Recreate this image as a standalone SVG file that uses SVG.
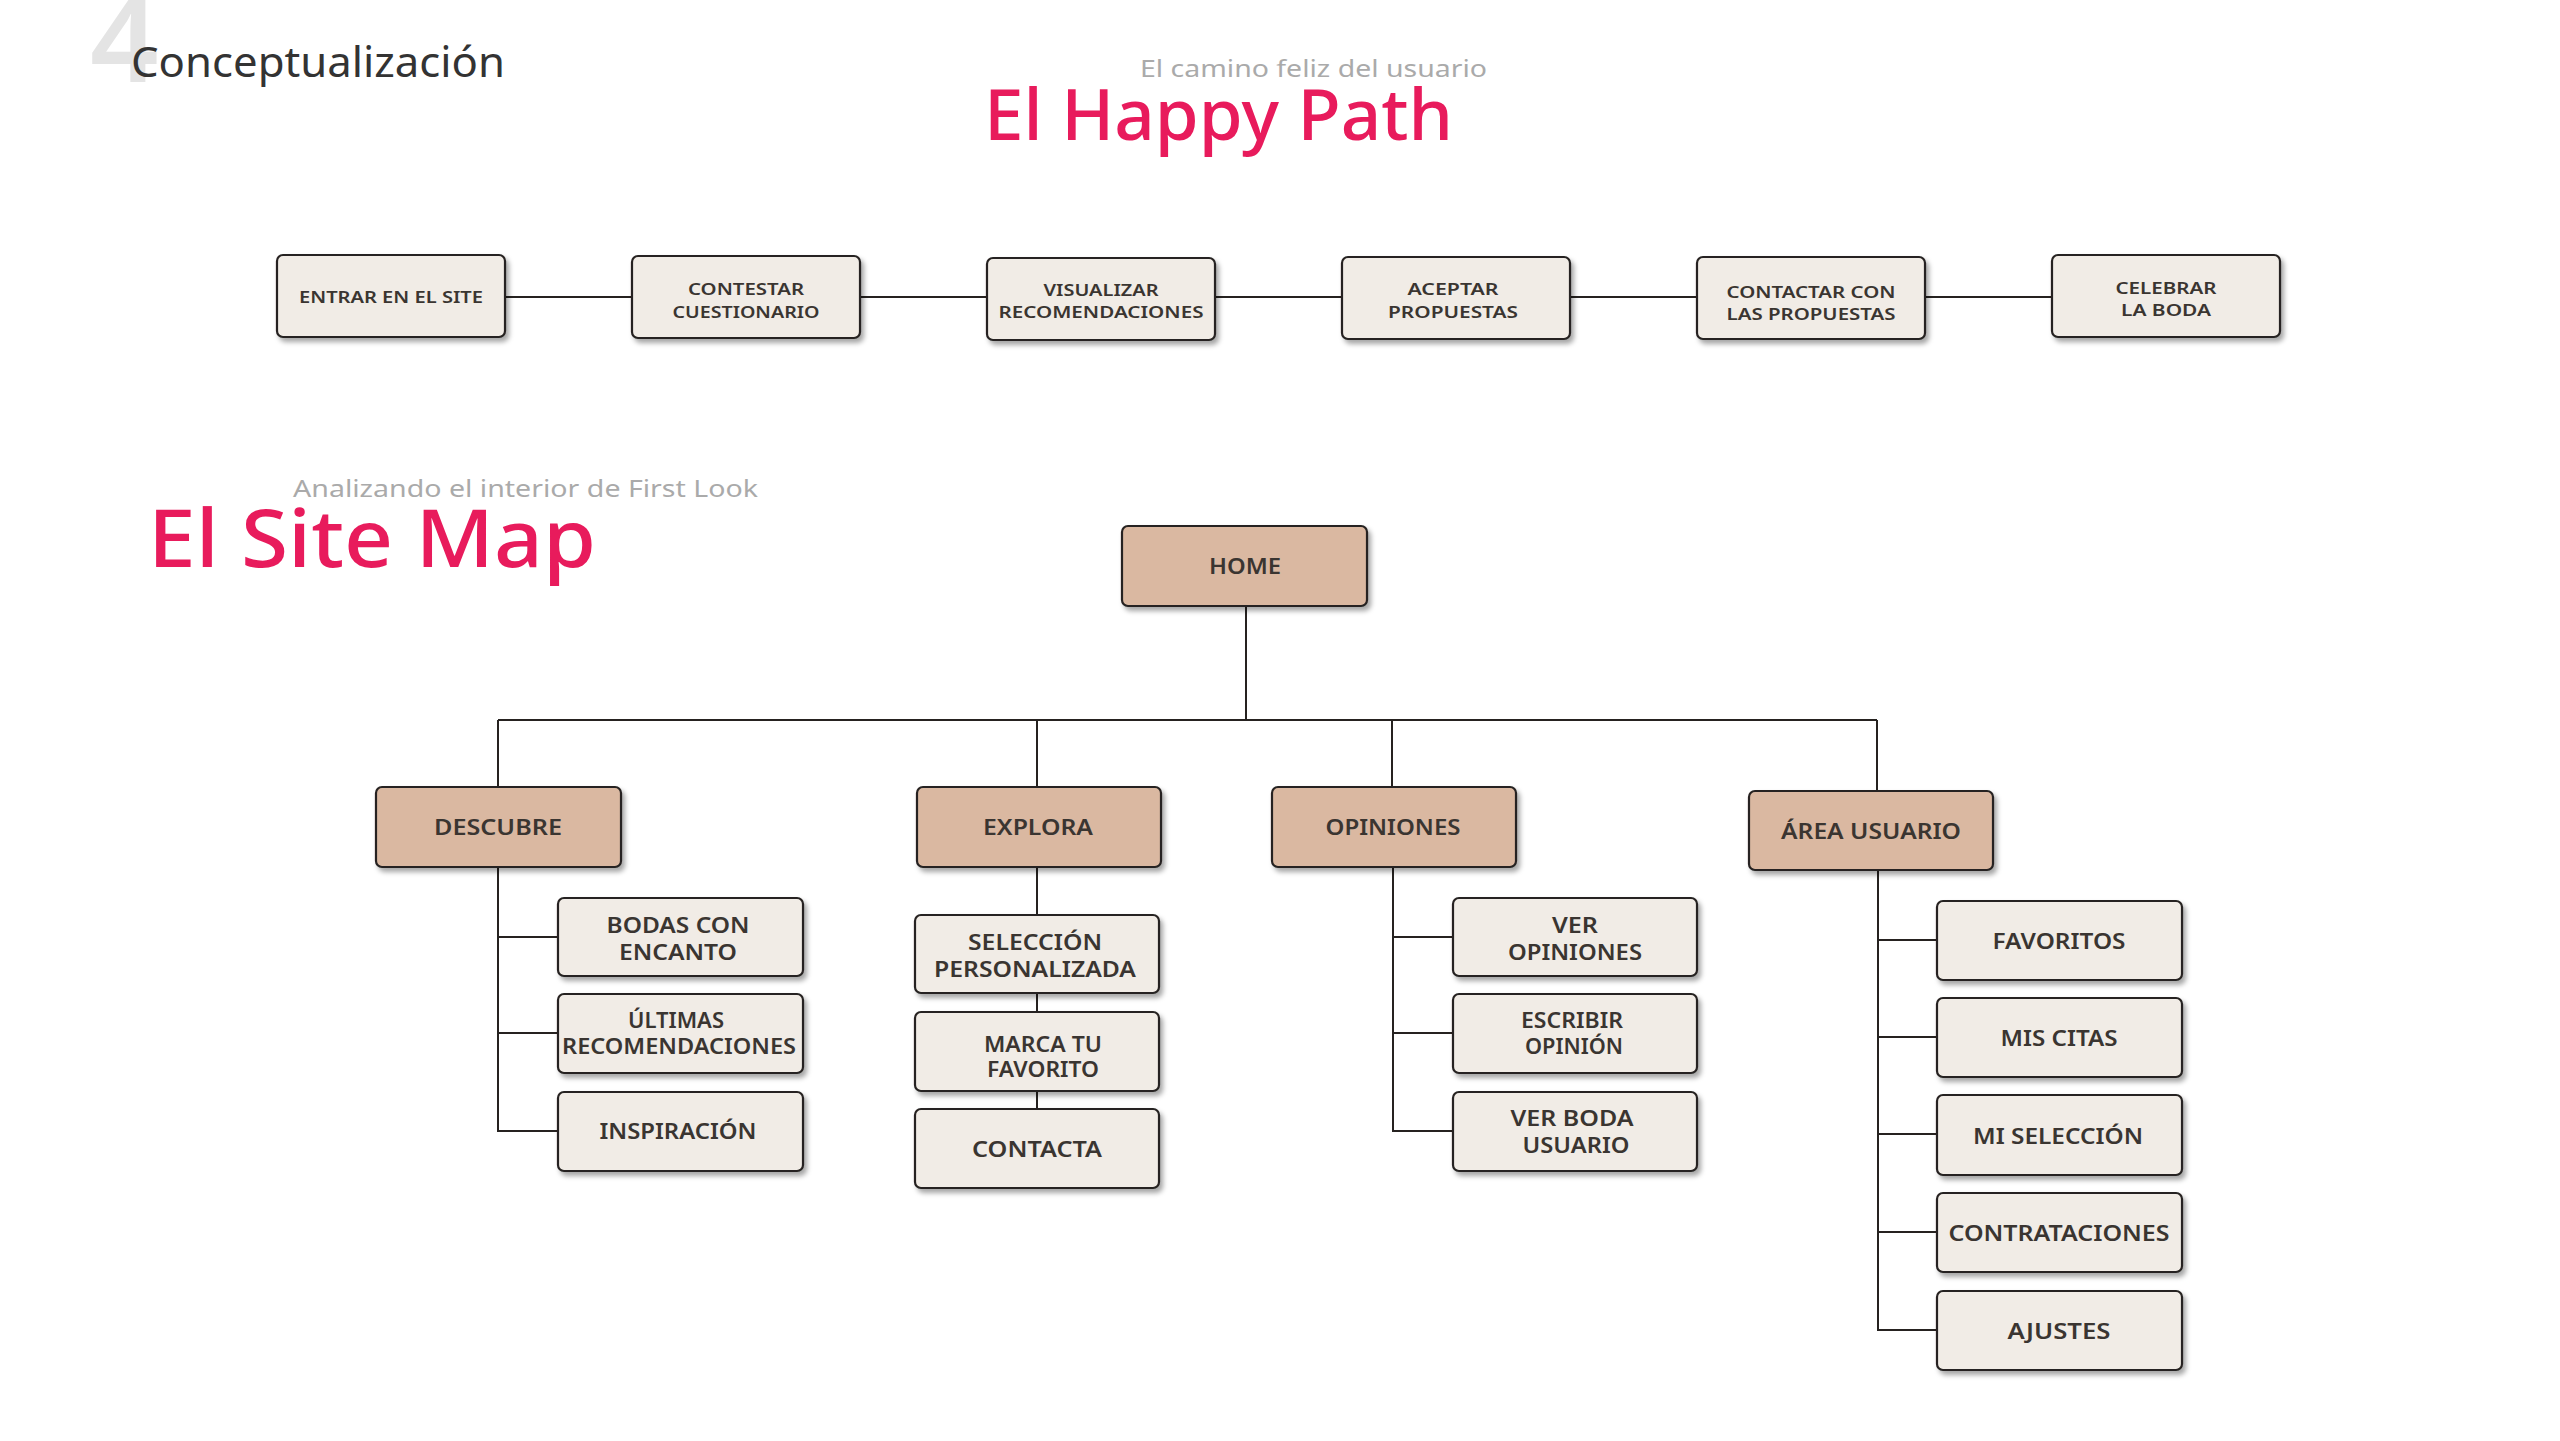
<svg xmlns="http://www.w3.org/2000/svg" width="2560" height="1441" viewBox="0 0 2560 1441">
<style>
text{font-family:"Noto Sans","Open Sans","Liberation Sans",sans-serif}
.box rect{stroke:#262220;stroke-width:2.2}
.light rect{fill:#f1ece6}
.main rect{fill:#dab8a1}
.lbl{fill:#3a3531;font-size:22px;font-weight:600;text-anchor:middle}
.sm{fill:#3a3531;font-size:16px;font-weight:600;text-anchor:middle}
.conn path{fill:none;stroke:#262220;stroke-width:2}
</style>
<defs>
<filter id="sh" x="-10%" y="-10%" width="125%" height="135%">
<feDropShadow dx="3" dy="4" stdDeviation="2.5" flood-color="#000" flood-opacity="0.35"/>
</filter>
</defs>
<rect width="2560" height="1441" fill="#ffffff"/>

<g id="header">
<text x="90" y="82" font-size="120" font-weight="600" fill="#e4e4e4">4</text>
<text x="131" y="77" font-size="42" fill="#333333" textLength="374" lengthAdjust="spacingAndGlyphs">Conceptualización</text>
<text x="1140" y="77" font-size="24" fill="#aaaaaa" textLength="347" lengthAdjust="spacingAndGlyphs">El camino feliz del usuario</text>
<text x="984" y="140" font-size="70" font-weight="500" fill="#e81b5c" textLength="469" lengthAdjust="spacingAndGlyphs">El Happy Path</text>
<text x="293" y="497" font-size="24" fill="#aaaaaa" textLength="465" lengthAdjust="spacingAndGlyphs">Analizando el interior de First Look</text>
<text x="148" y="567" font-size="80" font-weight="500" fill="#e81b5c" textLength="448" lengthAdjust="spacingAndGlyphs">El Site Map</text>
</g>

<g id="connectors" class="conn">
<path d="M506 297H632"/>
<path d="M860 297H987"/>
<path d="M1215 297H1342"/>
<path d="M1570 297H1697"/>
<path d="M1925 297H2052"/>
<path d="M1246 606V720"/>
<path d="M498 720H1877"/>
<path d="M498 720V787"/>
<path d="M1037 720V787"/>
<path d="M1392 720V787"/>
<path d="M1877 720V791"/>
<path d="M498 867V1131H558M498 937H558M498 1033H558"/>
<path d="M1037 867V915M1037 993V1012M1037 1091V1109"/>
<path d="M1393 867V1131H1453M1393 937H1453M1393 1033H1453"/>
<path d="M1878 870V1330H1937M1878 940H1937M1878 1037H1937M1878 1134H1937M1878 1232H1937"/>
</g>

<g id="hp1" class="box light"><rect x="277" y="255" width="228" height="82" rx="6" filter="url(#sh)"/><text class="sm" x="391" y="303" textLength="184" lengthAdjust="spacingAndGlyphs">ENTRAR EN EL SITE</text></g>
<g id="hp2" class="box light"><rect x="632" y="256" width="228" height="82" rx="6" filter="url(#sh)"/><text class="sm" x="746" y="295" textLength="116" lengthAdjust="spacingAndGlyphs">CONTESTAR</text><text class="sm" x="746" y="318" textLength="147" lengthAdjust="spacingAndGlyphs">CUESTIONARIO</text></g>
<g id="hp3" class="box light"><rect x="987" y="258" width="228" height="82" rx="6" filter="url(#sh)"/><text class="sm" x="1101" y="296" textLength="115" lengthAdjust="spacingAndGlyphs">VISUALIZAR</text><text class="sm" x="1101" y="318" textLength="205" lengthAdjust="spacingAndGlyphs">RECOMENDACIONES</text></g>
<g id="hp4" class="box light"><rect x="1342" y="257" width="228" height="82" rx="6" filter="url(#sh)"/><text class="sm" x="1453" y="295" textLength="91" lengthAdjust="spacingAndGlyphs">ACEPTAR</text><text class="sm" x="1453" y="318" textLength="130" lengthAdjust="spacingAndGlyphs">PROPUESTAS</text></g>
<g id="hp5" class="box light"><rect x="1697" y="257" width="228" height="82" rx="6" filter="url(#sh)"/><text class="sm" x="1811" y="298" textLength="169" lengthAdjust="spacingAndGlyphs">CONTACTAR CON</text><text class="sm" x="1811" y="320" textLength="169" lengthAdjust="spacingAndGlyphs">LAS PROPUESTAS</text></g>
<g id="hp6" class="box light"><rect x="2052" y="255" width="228" height="82" rx="6" filter="url(#sh)"/><text class="sm" x="2166" y="294" textLength="101" lengthAdjust="spacingAndGlyphs">CELEBRAR</text><text class="sm" x="2166" y="316" textLength="90" lengthAdjust="spacingAndGlyphs">LA BODA</text></g>

<g id="home" class="box main"><rect x="1122" y="526" width="245" height="80" rx="6" filter="url(#sh)"/><text class="lbl" x="1245" y="574" font-size="24" textLength="72" lengthAdjust="spacingAndGlyphs">HOME</text></g>

<g id="descubre" class="box main"><rect x="376" y="787" width="245" height="80" rx="6" filter="url(#sh)"/><text class="lbl" x="498" y="835" textLength="128" lengthAdjust="spacingAndGlyphs">DESCUBRE</text></g>
<g id="explora" class="box main"><rect x="917" y="787" width="244" height="80" rx="6" filter="url(#sh)"/><text class="lbl" x="1038" y="835" textLength="110" lengthAdjust="spacingAndGlyphs">EXPLORA</text></g>
<g id="opiniones" class="box main"><rect x="1272" y="787" width="244" height="80" rx="6" filter="url(#sh)"/><text class="lbl" x="1393" y="835" textLength="135" lengthAdjust="spacingAndGlyphs">OPINIONES</text></g>
<g id="area" class="box main"><rect x="1749" y="791" width="244" height="79" rx="6" filter="url(#sh)"/><text class="lbl" x="1871" y="839" textLength="180" lengthAdjust="spacingAndGlyphs">ÁREA USUARIO</text></g>

<g id="bodas" class="box light"><rect x="558" y="898" width="245" height="78" rx="6" filter="url(#sh)"/><text class="lbl" x="678" y="933" textLength="143" lengthAdjust="spacingAndGlyphs">BODAS CON</text><text class="lbl" x="678" y="960" textLength="118" lengthAdjust="spacingAndGlyphs">ENCANTO</text></g>
<g id="ultimas" class="box light"><rect x="558" y="994" width="245" height="79" rx="6" filter="url(#sh)"/><text class="lbl" x="676" y="1028" textLength="96" lengthAdjust="spacingAndGlyphs">ÚLTIMAS</text><text class="lbl" x="679" y="1054" textLength="234" lengthAdjust="spacingAndGlyphs">RECOMENDACIONES</text></g>
<g id="inspiracion" class="box light"><rect x="558" y="1092" width="245" height="79" rx="6" filter="url(#sh)"/><text class="lbl" x="678" y="1139" textLength="157" lengthAdjust="spacingAndGlyphs">INSPIRACIÓN</text></g>

<g id="seleccion" class="box light"><rect x="915" y="915" width="244" height="78" rx="6" filter="url(#sh)"/><text class="lbl" x="1035" y="950" textLength="134" lengthAdjust="spacingAndGlyphs">SELECCIÓN</text><text class="lbl" x="1035" y="977" textLength="202" lengthAdjust="spacingAndGlyphs">PERSONALIZADA</text></g>
<g id="marca" class="box light"><rect x="915" y="1012" width="244" height="79" rx="6" filter="url(#sh)"/><text class="lbl" x="1043" y="1052" textLength="118" lengthAdjust="spacingAndGlyphs">MARCA TU</text><text class="lbl" x="1043" y="1077" textLength="112" lengthAdjust="spacingAndGlyphs">FAVORITO</text></g>
<g id="contacta" class="box light"><rect x="915" y="1109" width="244" height="79" rx="6" filter="url(#sh)"/><text class="lbl" x="1037" y="1157" textLength="130" lengthAdjust="spacingAndGlyphs">CONTACTA</text></g>

<g id="ver-opiniones" class="box light"><rect x="1453" y="898" width="244" height="78" rx="6" filter="url(#sh)"/><text class="lbl" x="1575" y="933" textLength="46" lengthAdjust="spacingAndGlyphs">VER</text><text class="lbl" x="1575" y="960" textLength="134" lengthAdjust="spacingAndGlyphs">OPINIONES</text></g>
<g id="escribir" class="box light"><rect x="1453" y="994" width="244" height="79" rx="6" filter="url(#sh)"/><text class="lbl" x="1572" y="1028" textLength="102" lengthAdjust="spacingAndGlyphs">ESCRIBIR</text><text class="lbl" x="1574" y="1054" textLength="98" lengthAdjust="spacingAndGlyphs">OPINIÓN</text></g>
<g id="ver-boda" class="box light"><rect x="1453" y="1092" width="244" height="79" rx="6" filter="url(#sh)"/><text class="lbl" x="1572" y="1126" textLength="123" lengthAdjust="spacingAndGlyphs">VER BODA</text><text class="lbl" x="1576" y="1153" textLength="107" lengthAdjust="spacingAndGlyphs">USUARIO</text></g>

<g id="favoritos" class="box light"><rect x="1937" y="901" width="245" height="79" rx="6" filter="url(#sh)"/><text class="lbl" x="2059" y="949" textLength="133" lengthAdjust="spacingAndGlyphs">FAVORITOS</text></g>
<g id="mis-citas" class="box light"><rect x="1937" y="998" width="245" height="79" rx="6" filter="url(#sh)"/><text class="lbl" x="2059" y="1046" textLength="117" lengthAdjust="spacingAndGlyphs">MIS CITAS</text></g>
<g id="mi-seleccion" class="box light"><rect x="1937" y="1095" width="245" height="80" rx="6" filter="url(#sh)"/><text class="lbl" x="2058" y="1144" textLength="170" lengthAdjust="spacingAndGlyphs">MI SELECCIÓN</text></g>
<g id="contrataciones" class="box light"><rect x="1937" y="1193" width="245" height="79" rx="6" filter="url(#sh)"/><text class="lbl" x="2059" y="1241" textLength="221" lengthAdjust="spacingAndGlyphs">CONTRATACIONES</text></g>
<g id="ajustes" class="box light"><rect x="1937" y="1291" width="245" height="79" rx="6" filter="url(#sh)"/><text class="lbl" x="2059" y="1339" textLength="103" lengthAdjust="spacingAndGlyphs">AJUSTES</text></g>
</svg>
